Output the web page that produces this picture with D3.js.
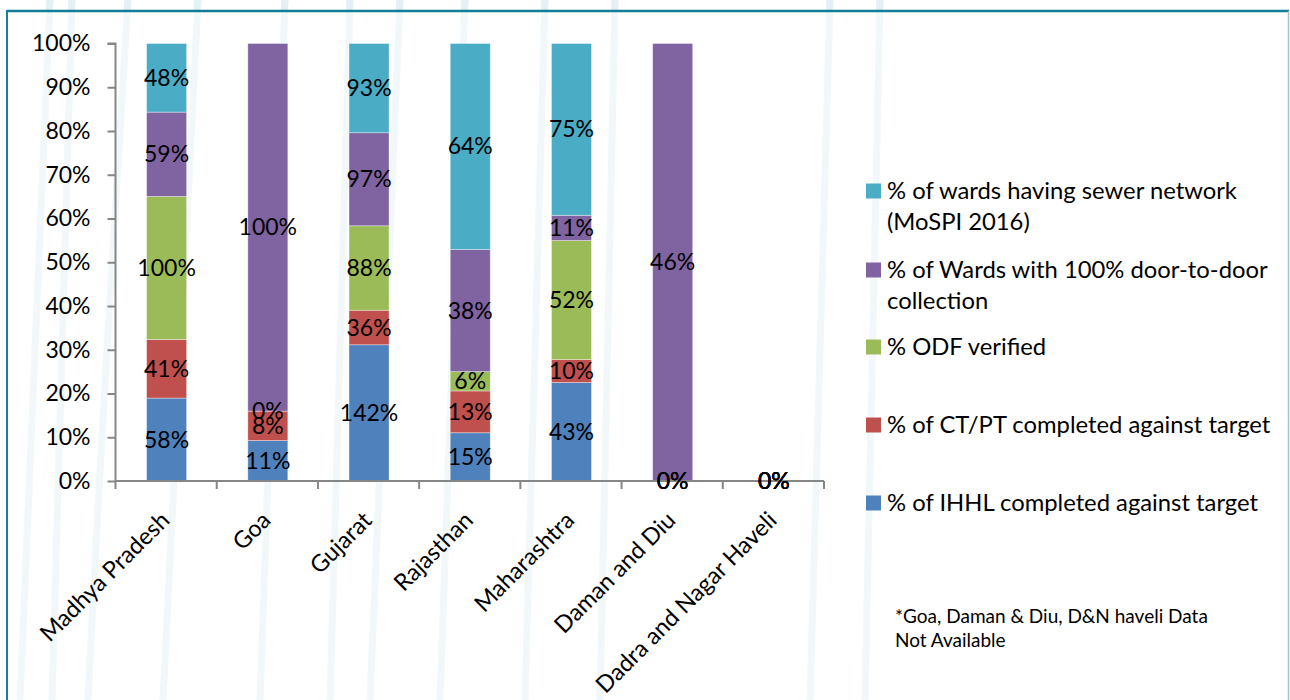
<!DOCTYPE html>
<html><head><meta charset="utf-8">
<script src="https://cdn.jsdelivr.net/npm/d3@7"></script>
<style>html,body{margin:0;padding:0;background:#fff;}svg{display:block;}</style>
</head><body>
<svg id="chart" width="1290" height="700"></svg>
<script>
// ---- data ----
const categories = ["Madhya Pradesh","Goa","Gujarat","Rajasthan","Maharashtra","Daman and Diu","Dadra and Nagar Haveli"];
const seriesNames = ["% of IHHL completed against target","% of CT/PT completed against target","% ODF verified","% of Wards with 100% door-to-door collection","% of wards having sewer network (MoSPI 2016)"];
const ihhl   = [58, 11, 142, 15, 43, 0, 0];
const ctpt   = [41, 8, 36, 13, 10, 0, 0];
const odf    = [100, 0, 88, 6, 52, 0, 0];
const d2d    = [59, 100, 97, 38, 11, 46, 0];
const sewer  = [48, null, 93, 64, 75, null, 0];
const yTicks = [0,0.1,0.2,0.3,0.4,0.5,0.6,0.7,0.8,0.9,1.0];
const legendLines = [
  ["% of wards having sewer network","(MoSPI 2016)"],
  ["% of Wards with 100% door-to-door","collection"],
  ["% ODF verified"],
  ["% of CT/PT completed against target"],
  ["% of IHHL completed against target"]
];
const footnote = ["*Goa, Daman & Diu, D&N haveli Data","Not Available"];

const colors = ["#4F81BD","#C0504D","#9BBB59","#8064A2","#4BACC6"];
const seriesData = [ihhl, ctpt, odf, d2d, sewer];
const FONT = "Lato, 'Open Sans', sans-serif";

const svg = d3.select("#chart");

// decorative faint background strokes
const deco = svg.append("g").attr("fill","none").attr("stroke","#f2f8fa").attr("stroke-width",7);
[[50,-30],[72,-20],[128,-40],[198,-35],[285,-25],[350,-20],[400,-30],[465,-25],[545,-20],[615,-15],[830,-20],[880,-15]].forEach(([x,dx])=>{
  deco.append("path").attr("d",`M${x},0 C${x+dx*0.3},200 ${x+dx*0.7},450 ${x+dx},700`);
});
// slightly stronger above the frame
const decoTop = svg.append("g").attr("fill","none").attr("stroke","#e3f0f4").attr("stroke-width",7);
[[50,-30],[72,-20],[128,-40],[198,-35],[285,-25],[350,-20],[400,-30],[465,-25],[545,-20],[615,-15],[830,-20],[880,-15]].forEach(([x,dx])=>{
  decoTop.append("path").attr("d",`M${x},0 L${x+dx*0.03},10`);
});

// frame
svg.append("line").attr("x1",7).attr("x2",1289).attr("y1",11).attr("y2",11).attr("stroke","#137C96").attr("stroke-width",2.5);
svg.append("line").attr("x1",7).attr("x2",7).attr("y1",10).attr("y2",700).attr("stroke","#1A7F9A").attr("stroke-width",2);
svg.append("line").attr("x1",1288.5).attr("x2",1288.5).attr("y1",11).attr("y2",700).attr("stroke","#9EC3CF").attr("stroke-width",1.5);

const x0 = 115.5, x1 = 824, yBottom = 481, yTop = 43.5;
const x = d3.scaleBand().domain(categories).range([x0, x1]).paddingInner(0).paddingOuter(0);
const y = d3.scaleLinear().domain([0,1]).range([yBottom, yTop]);
const barW = 40;

// stacking (100% stacked)
const rows = categories.map((c,i)=>{
  const vals = seriesData.map(s=>s[i]);
  const total = d3.sum(vals.map(v=>v||0));
  let acc = 0;
  return vals.map((v,k)=>{
    const p = total>0 ? (v||0)/total : 0;
    const seg = {cat:c, k, v, y0:acc, y1:acc+p};
    acc += p;
    return seg;
  });
});

const g = svg.append("g");
rows.forEach(r=>{
  r.forEach(s=>{
    if (s.y1 - s.y0 <= 0) return;
    g.append("rect")
      .attr("x", x(s.cat) + x.bandwidth()/2 - barW/2 + 0.5)
      .attr("width", barW)
      .attr("y", y(s.y1))
      .attr("height", y(s.y0) - y(s.y1))
      .attr("fill", colors[s.k])
      .attr("stroke", "rgba(255,255,255,0.45)")
      .attr("stroke-width", 0.8);
  });
});

// axes
const yAxis = d3.axisLeft(y).tickValues(yTicks).tickFormat(d3.format(".0%")).tickSize(8).tickPadding(17);
const ya = svg.append("g").attr("transform",`translate(${x0},0)`).call(yAxis);
ya.select(".domain").attr("stroke","#868686").attr("stroke-width",2).attr("d",`M-8,${yTop}H0V${yBottom}`);
ya.selectAll(".tick line").attr("stroke","#868686").attr("stroke-width",2);
ya.selectAll("text").attr("font-family",FONT).attr("font-size",23).attr("fill","#000");

const xa = svg.append("g").attr("transform",`translate(0,${yBottom})`);
xa.append("path").attr("d",`M${x0},0H${x1}`).attr("stroke","#868686").attr("stroke-width",2);
const bounds = categories.map(c=>x(c)).concat([x1]);
xa.selectAll("line.tk").data(bounds).join("line").attr("class","tk")
  .attr("x1",d=>d).attr("x2",d=>d).attr("y1",0).attr("y2",8).attr("stroke","#868686").attr("stroke-width",2);
xa.selectAll("text.cat").data(categories).join("text").attr("class","cat")
  .attr("transform",d=>`translate(${x(d)+x.bandwidth()/2-7},${29}) rotate(-45)`)
  .attr("text-anchor","end").attr("dy","0.71em")
  .attr("font-family",FONT).attr("font-size",23.5).attr("fill","#000")
  .text(d=>d);

// data labels
const lab = svg.append("g");
rows.forEach(r=>{
  r.forEach(s=>{
    if (s.v === null || s.v === undefined) return;
    lab.append("text")
      .attr("x", x(s.cat) + x.bandwidth()/2 + 0.5)
      .attr("y", y((s.y0+s.y1)/2))
      .attr("dy","0.35em")
      .attr("text-anchor","middle")
      .attr("font-family",FONT).attr("font-size",23).attr("fill","#000")
      .text(s.v + "%");
  });
});

// legend
const legY = [191, 270, 347, 425, 503];
const legColors = [colors[4], colors[3], colors[2], colors[1], colors[0]];
const lg = svg.append("g");
legendLines.forEach((lines,i)=>{
  lg.append("rect").attr("x",866).attr("y",legY[i]-7.5).attr("width",15).attr("height",15).attr("fill",legColors[i]);
  lines.forEach((t,j)=>{
    lg.append("text").attr("x",887).attr("y",legY[i] + j*31).attr("dy","0.35em")
      .attr("font-family",FONT).attr("font-size",23.8).attr("fill","#000").text(t);
  });
});

// footnote
footnote.forEach((t,j)=>{
  svg.append("text").attr("x",895).attr("y",623 + j*24)
    .attr("font-family",FONT).attr("font-size",19).attr("fill","#000").text(t);
});
</script>
</body></html>
